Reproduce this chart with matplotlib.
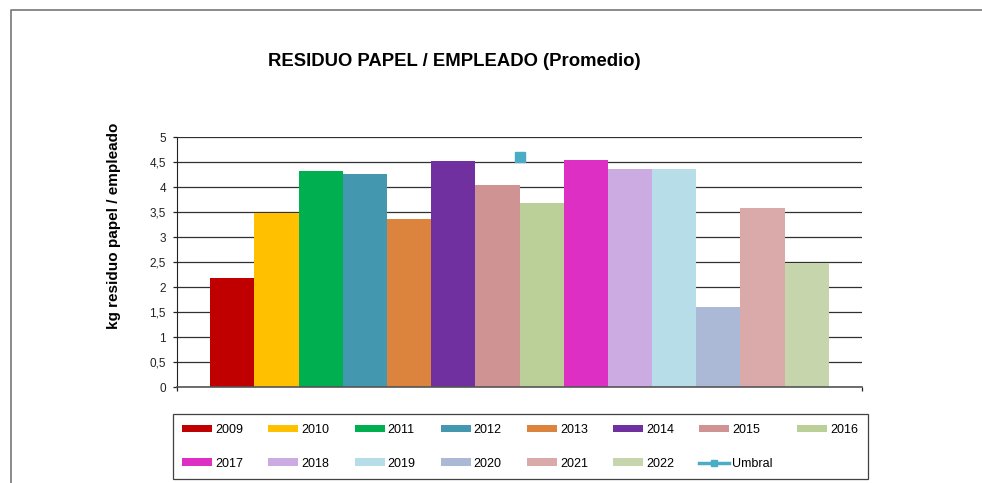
import matplotlib
matplotlib.use('Agg')
from matplotlib import pyplot as plt
from matplotlib.lines import Line2D

plt.rcParams['font.family'] = ['Liberation Sans', 'DejaVu Sans']

YEARS = ['2009', '2010', '2011', '2012', '2013', '2014', '2015',
         '2016', '2017', '2018', '2019', '2020', '2021', '2022']
VALUES = [2.18, 3.48, 4.32, 4.26, 3.36, 4.52, 4.04,
          3.68, 4.54, 4.36, 4.36, 1.60, 3.58, 2.48]
COLORS = ['#C00000', '#FFC000', '#00B050', '#4398B0', '#DC843E', '#7030A0', '#D09393',
          '#BBCF98', '#DE2FC4', '#CCAAE2', '#B7DDE8', '#ABB9D7', '#DAA9A9', '#C6D5AC']
UMBRAL = 4.6
UMBRAL_COLOR = '#4BACC6'
YTICKS = [0, 0.5, 1, 1.5, 2, 2.5, 3, 3.5, 4, 4.5, 5]


def fmt(v: float) -> str:
    return f'{v:g}'.replace('.', ',')


def main():
    fig = plt.figure(figsize=(9.82, 4.83), dpi=100)
    ax = fig.add_axes([177 / 982, 1 - 387 / 483, 685 / 982, 250 / 483])

    # excel-like clustered bars: one category, gap width 150%
    n = len(YEARS)
    w = 1 / (n + 1.5)
    handles = {}
    for i, (yr, v, c) in enumerate(zip(YEARS, VALUES, COLORS)):
        b = ax.bar((0.75 + i + 0.5) * w, v, width=w, color=c, linewidth=0, label=yr)
        handles[yr] = b
    ax.plot([0.5], [UMBRAL], color=UMBRAL_COLOR, marker='s', markersize=7.5,
            linewidth=2.5, label='Umbral', zorder=5)
    # smaller marker for the legend entry, like the source
    handles['Umbral'] = Line2D([], [], color=UMBRAL_COLOR, marker='s', markersize=5,
                               linewidth=2.5)

    ax.set_xlim(0, 1)
    ax.set_ylim(0, 5)
    ax.set_xticks([0, 1], ['', ''])
    ax.set_yticks(YTICKS, [fmt(t) for t in YTICKS])
    ax.tick_params(axis='both', direction='out', length=3, width=0.9, colors='#222222',
                   labelsize=8.5, pad=5)
    ax.grid(axis='y', color='#303030', linewidth=0.9)
    ax.set_axisbelow(True)
    for s in ('top', 'right'):
        ax.spines[s].set_visible(False)
    ax.spines['left'].set_color('#222222')
    ax.spines['bottom'].set_color('#555555')
    ax.spines['bottom'].set_linewidth(1.2)

    fig.text(454 / 982, 1 - 61 / 483, 'RESIDUO PAPEL / EMPLEADO (Promedio)',
             ha='center', va='center', fontsize=13.3, fontweight='bold')
    fig.text(114 / 982, 1 - 226 / 483, 'kg residuo papel / empleado', rotation=90,
             ha='center', va='center', fontsize=11, fontweight='bold')

    # row-major order for matplotlib's column-filled legend
    order = ['2009', '2017', '2010', '2018', '2011', '2019', '2012', '2020',
             '2013', '2021', '2014', '2022', '2015', 'Umbral', '2016']
    leg = fig.legend([handles[k] for k in order], order, ncol=8,
                     loc='lower left', mode='expand',
                     bbox_to_anchor=(173 / 982, 1 - 479 / 483, 695 / 982, 67 / 483),
                     borderaxespad=0, fontsize=9, frameon=True, fancybox=False,
                     edgecolor='#111111', handlelength=2.4, handleheight=0.55,
                     handletextpad=0.25, labelspacing=1.75, borderpad=0.75,
                     columnspacing=1.0)
    leg.get_frame().set_linewidth(0.9)

    # outer chart border (partly cropped in the source)
    fig.add_artist(Line2D([10.5 / 982, 10.5 / 982, 1], [0, 1 - 9.5 / 483, 1 - 9.5 / 483],
                          transform=fig.transFigure, color='#777777', linewidth=1.2))

    fig.savefig('out.png', dpi=100)


if __name__ == '__main__':
    main()
